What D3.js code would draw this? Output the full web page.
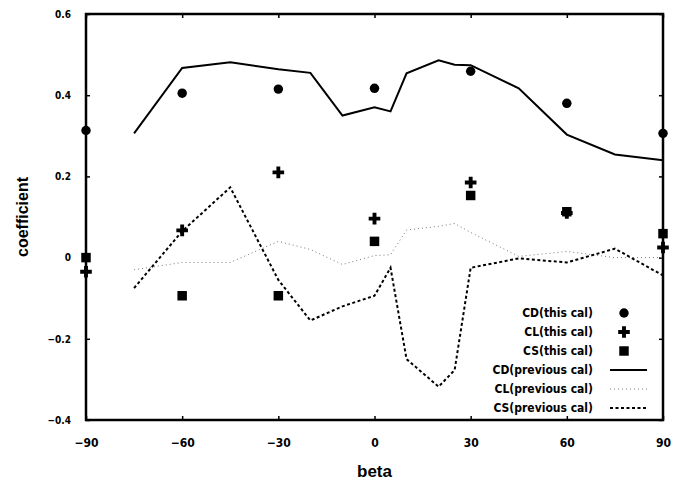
<!DOCTYPE html>
<html>
<head>
<meta charset="utf-8">
<script src="https://cdn.jsdelivr.net/npm/d3@7"></script>
<style>
    html, body { margin: 0; padding: 0; background: #fff; }
    #graph { width: 680px; height: 484px; }
</style>
</head>
<body>
<div id="graph"></div>
<script>
// beta angles of the two data sets
const betaThis = [-90, -60, -30, 0, 30, 60, 90];
const betaPrev = [-75, -60, -45, -30, -20, -10, 0, 5, 10, 20, 25, 30, 45, 60, 75, 90];

// this calculation (markers)
const cdThis = [0.313, 0.405, 0.415, 0.417, 0.459, 0.38, 0.306];
const clThis = [-0.035, 0.067, 0.21, 0.096, 0.185, 0.11, 0.025];
const csThis = [0.0, -0.094, -0.094, 0.04, 0.153, 0.113, 0.059];

// previous calculation (lines)
const cdPrev = [0.306, 0.467, 0.481, 0.464, 0.455, 0.35, 0.37, 0.36, 0.454, 0.486, 0.475, 0.474, 0.417, 0.303, 0.254, 0.24];
const clPrev = [-0.03, -0.012, -0.012, 0.04, 0.02, -0.017, 0.005, 0.007, 0.068, 0.077, 0.084, 0.062, 0.003, 0.015, 0.0, 0.0];
const csPrev = [-0.075, 0.065, 0.173, -0.055, -0.155, -0.12, -0.094, -0.025, -0.25, -0.318, -0.277, -0.025, -0.002, -0.012, 0.022, -0.044];

// axis ticks
const xTicks = [-90, -60, -30, 0, 30, 60, 90];
const yTicks = [-0.4, -0.2, 0, 0.2, 0.4, 0.6];

const legendLabels = ["CD(this cal)", "CL(this cal)", "CS(this cal)",
                      "CD(previous cal)", "CL(previous cal)", "CS(previous cal)"];

(function() {

    const narrow = "'Liberation Sans Narrow', 'DejaVu Sans Condensed', 'Arial Narrow', sans-serif";
    const wide = "'Liberation Sans', Arial, sans-serif";

    const margin = {top: 14, right: 17, bottom: 64, left: 86};
    const width = 680 - margin.left - margin.right;
    const height = 484 - margin.top - margin.bottom;

    const x = d3.scaleLinear().domain([-90, 90]).range([0, width]);
    const y = d3.scaleLinear().domain([-0.4, 0.6]).range([height, 0]);

    const svg = d3.select("#graph").append("svg")
        .attr("width", 680)
        .attr("height", 484)
        .append("g")
        .attr("transform", "translate(" + margin.left + "," + margin.top + ")");

    // fmt for y labels: 0 without decimals
    function fmt_y(v) {
        return v === 0 ? "0" : d3.format(".1f")(v);
    }

    // bottom axis, ticks pointing inward
    const gx = svg.append("g")
        .attr("transform", "translate(0," + height + ")")
        .call(d3.axisBottom(x).tickValues(xTicks).tickSize(-4).tickPadding(18));
    gx.selectAll("text")
        .attr("font-family", narrow)
        .attr("font-weight", "bold")
        .attr("font-size", 12)
        .attr("fill", "#000");

    svg.append("g")
        .call(d3.axisTop(x).tickValues(xTicks).tickSize(-4).tickFormat(""));

    const gy = svg.append("g")
        .call(d3.axisLeft(y).tickValues(yTicks).tickSize(-4).tickPadding(15).tickFormat(fmt_y));
    gy.selectAll("text")
        .attr("font-family", narrow)
        .attr("font-weight", "bold")
        .attr("font-size", 10)
        .attr("fill", "#000");

    svg.append("g")
        .attr("transform", "translate(" + width + ",0)")
        .call(d3.axisRight(y).tickValues(yTicks).tickSize(-4).tickFormat(""));

    svg.selectAll(".domain").remove();
    svg.selectAll(".tick line").attr("stroke", "#000").attr("stroke-width", 1.5);

    // frame
    svg.append("rect")
        .attr("width", width)
        .attr("height", height)
        .attr("fill", "none")
        .attr("stroke", "#000")
        .attr("stroke-width", 2.5);

    // lines for the previous calculation
    function prev_line(vals) {
        return d3.line()
            .x(function(d, i) { return x(betaPrev[i]); })
            .y(function(d) { return y(d); })(vals);
    }

    svg.append("path")
        .attr("d", prev_line(clPrev))
        .attr("fill", "none")
        .attr("stroke", "#777")
        .attr("stroke-width", 1)
        .attr("stroke-dasharray", "1,3");

    svg.append("path")
        .attr("d", prev_line(cdPrev))
        .attr("fill", "none")
        .attr("stroke", "#000")
        .attr("stroke-width", 2);

    svg.append("path")
        .attr("d", prev_line(csPrev))
        .attr("fill", "none")
        .attr("stroke", "#000")
        .attr("stroke-width", 2)
        .attr("stroke-dasharray", "3,2.5");

    // markers for this calculation
    const symCD = d3.symbol().type(d3.symbolCircle).size(70);
    const symCL = d3.symbol().type(d3.symbolCross).size(75);
    const symCS = d3.symbol().type(d3.symbolSquare).size(90);

    function markers(vals, sym) {
        svg.append("g").selectAll("path")
            .data(vals)
            .enter().append("path")
            .attr("transform", function(d, i) { return "translate(" + x(betaThis[i]) + "," + y(d) + ")"; })
            .attr("d", sym)
            .attr("fill", "#000");
    }
    markers(cdThis, symCD);
    markers(clThis, symCL);
    markers(csThis, symCS);

    // legend
    const legend = svg.append("g")
        .attr("transform", "translate(" + (593 - margin.left) + "," + (313 - margin.top) + ")")
        .selectAll("g")
        .data(legendLabels)
        .enter().append("g")
        .attr("transform", function(d, i) { return "translate(0," + (i * 19) + ")"; });

    legend.append("text")
        .attr("x", 0)
        .attr("dy", "0.35em")
        .attr("text-anchor", "end")
        .attr("font-family", narrow)
        .attr("font-weight", "bold")
        .attr("font-size", 12)
        .text(function(d) { return d; });

    const syms = [symCD, symCL, symCS];
    legend.filter(function(d, i) { return i < 3; })
        .append("path")
        .attr("transform", "translate(31,0)")
        .attr("d", function(d, i) { return syms[i](); })
        .attr("fill", "#000");

    const lineStyles = [
        {stroke: "#000", width: 2, dash: null},
        {stroke: "#777", width: 1, dash: "1,3"},
        {stroke: "#000", width: 2, dash: "3,2.5"}
    ];
    legend.filter(function(d, i) { return i >= 3; })
        .append("line")
        .attr("x1", 17)
        .attr("x2", 54)
        .attr("stroke", function(d, i) { return lineStyles[i].stroke; })
        .attr("stroke-width", function(d, i) { return lineStyles[i].width; })
        .attr("stroke-dasharray", function(d, i) { return lineStyles[i].dash; });

    // axis titles
    svg.append("text")
        .attr("x", width / 2)
        .attr("y", height + 57)
        .attr("text-anchor", "middle")
        .attr("font-family", wide)
        .attr("font-weight", "bold")
        .attr("font-size", 17)
        .text("beta");

    svg.append("text")
        .attr("transform", "translate(" + (28 - margin.left) + "," + y(0.1) + ") rotate(-90)")
        .attr("text-anchor", "middle")
        .attr("font-family", wide)
        .attr("font-weight", "bold")
        .attr("font-size", 16)
        .text("coefficient");

})();
</script>
</body>
</html>
